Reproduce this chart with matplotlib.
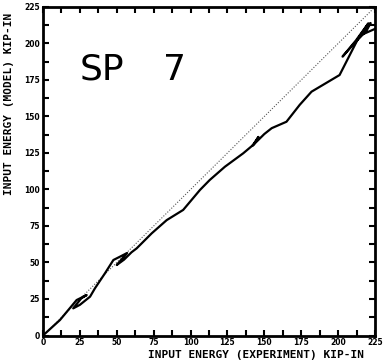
import matplotlib
matplotlib.use("Agg")
import matplotlib.pyplot as plt
from matplotlib.ticker import MultipleLocator

# measured energy path (experiment vs model), kip-in
exp_energy = [0, 11.5, 22.8, 29.6, 26.0, 20.5, 25.0, 31.9, 35.2, 42.0, 47.7,
              52.2, 57.0, 50.0, 55.0, 60.0, 63.5, 73.7, 83.8, 95.0, 106.4,
              113.0, 123.3, 135.7, 143.0, 146.0, 142.0, 150.0, 155.0, 165.0,
              174.0, 182.0, 201.0, 213.7, 220.5, 212.0, 203.0, 210.0, 219.4,
              222.0, 216.0, 225.0]
model_energy = [0, 10.6, 24.3, 27.7, 25.5, 18.6, 21.0, 26.6, 32.3, 42.6, 51.7,
                54.0, 56.5, 48.3, 52.0, 57.0, 59.7, 70.0, 79.0, 86.0, 99.7,
                106.5, 115.6, 124.8, 131.0, 136.0, 130.0, 138.0, 142.0, 146.4,
                158.0, 167.0, 178.4, 203.6, 213.8, 202.0, 191.0, 199.0, 209.0,
                214.0, 206.0, 210.0]
ref_line = [0, 225]

fig = plt.figure(figsize=(3.89, 3.62), dpi=100)
ax = fig.add_axes([0.1105, 0.0732, 0.8535, 0.9075])

ax.plot(ref_line, ref_line, color="#555555", linestyle=(0, (1, 1.5)), linewidth=0.8)
ax.plot(exp_energy, model_energy, color="black", linewidth=1.6)

ax.set_xlim(0, 225)
ax.set_ylim(0, 225)
ax.xaxis.set_major_locator(MultipleLocator(25))
ax.yaxis.set_major_locator(MultipleLocator(25))
ax.xaxis.set_minor_locator(MultipleLocator(12.5))
ax.yaxis.set_minor_locator(MultipleLocator(12.5))
ax.tick_params(which="both", direction="in", length=4, width=1.5,
               top=True, right=True, labelsize=5.5, pad=2)
for lab in ax.get_xticklabels() + ax.get_yticklabels():
    lab.set_fontweight("bold")
for sp in ax.spines.values():
    sp.set_linewidth(2)

ax.text(25, 175, "SP", fontsize=26, family="DejaVu Sans")
ax.text(81, 175, "7", fontsize=26, family="DejaVu Sans")

fig.text(0.658, 0.02, "INPUT ENERGY (EXPERIMENT) KIP-IN", ha="center",
         va="center", fontsize=8, family="DejaVu Sans Mono", fontweight="bold")
fig.text(0.022, 0.713, "INPUT ENERGY (MODEL) KIP-IN", ha="center",
         va="center", rotation=90, fontsize=8, family="DejaVu Sans Mono",
         fontweight="bold")

fig.savefig("out.png", dpi=100)
